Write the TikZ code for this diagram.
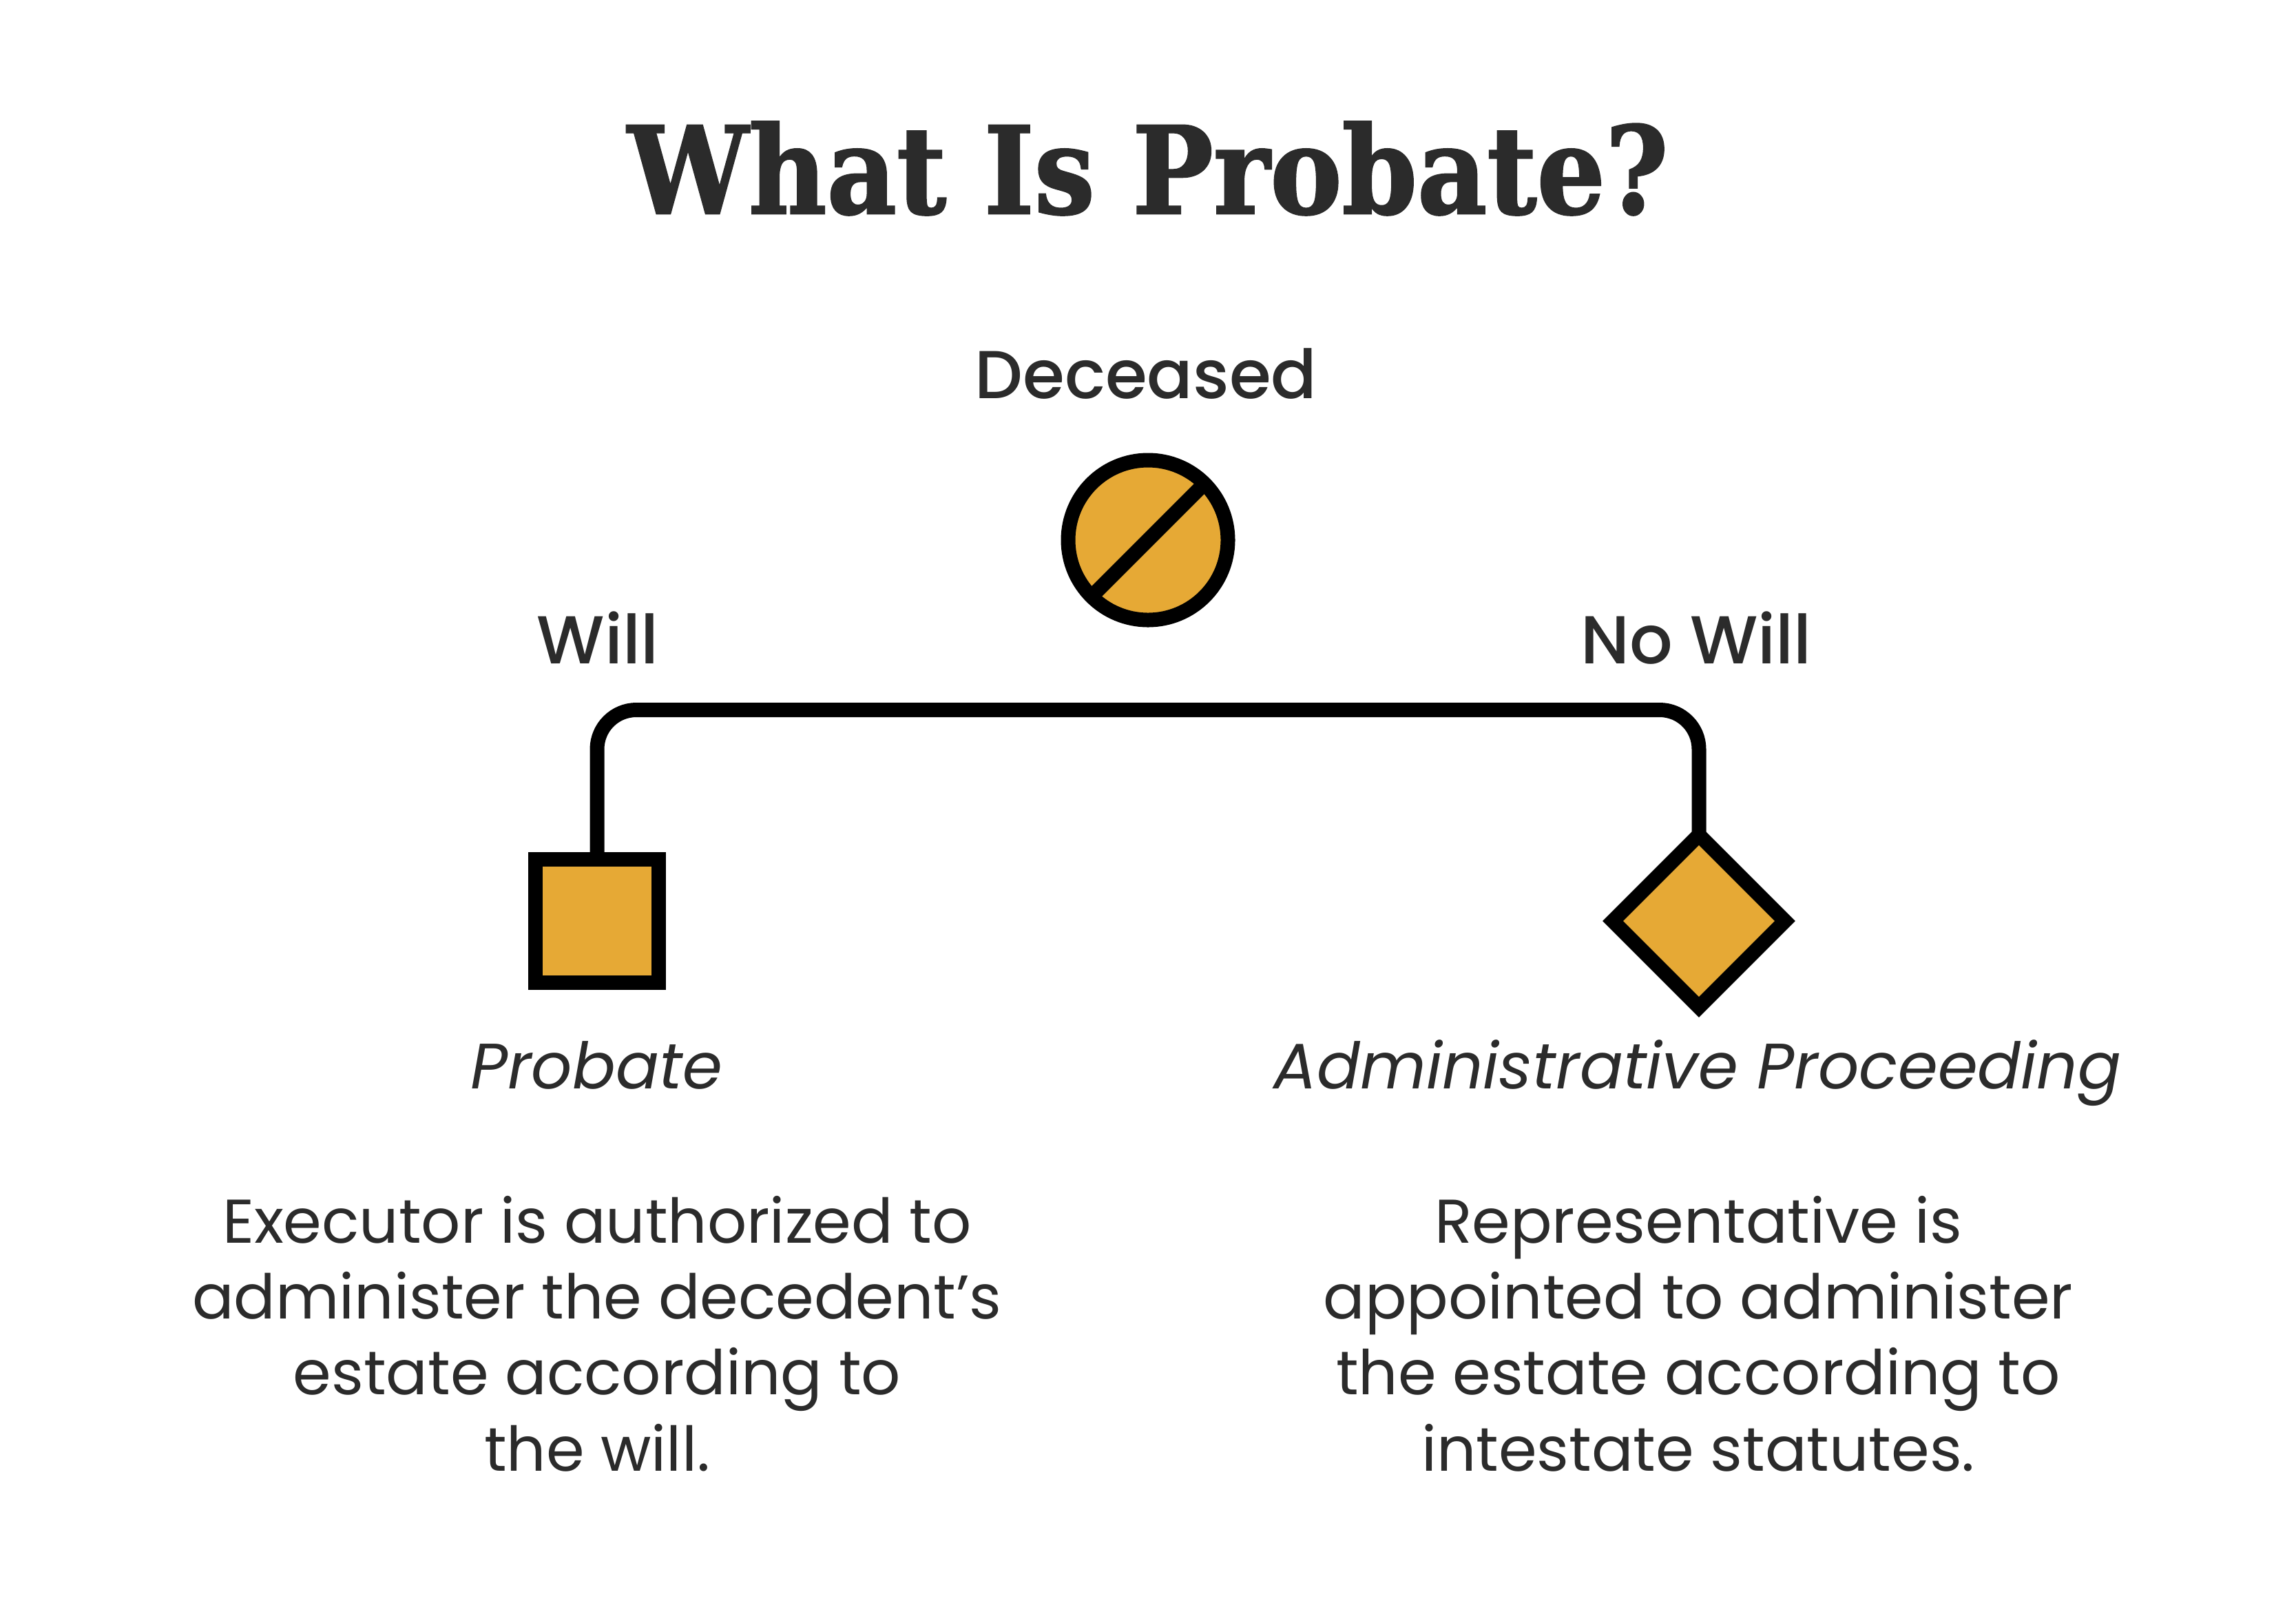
\documentclass[tikz,border=0pt]{standalone}
\usepackage{fontspec}
\usepackage{xcolor}
\usepackage{tikz}
\usetikzlibrary{
	shapes.geometric,
	positioning,
	calc
}
\setmainfont{Poppins}[BoldFont={* Medium}]
\newfontface\titlefont{DejaVu Serif Bold}[FakeBold=1.5]
\definecolor{gold}{HTML}{E6A935}
\definecolor{ink}{HTML}{2B2B2B}

\begin{document}
\begin{tikzpicture}[
				symbox/.style={
					draw=black, fill=gold, line width=0.21cm,
					inner sep=0pt, outer sep=0pt
				},
				label/.style={
					text=ink, inner sep=0pt, anchor=base,
					font=\bfseries\fontsize{28}{34}\selectfont
				},
				kind/.style={
					label, font=\itshape\fontsize{26.5}{32}\selectfont
				},
				para/.style={
					text=ink, inner sep=0pt, anchor=base, align=center,
					font=\fontsize{25.5}{31.35}\selectfont
				},
				link/.style={draw=black, line width=0.21cm, rounded corners=0.57cm},
				]
				
				\fill[white] (0,0) rectangle (33.34,-23.26);
				\useasboundingbox (0,0) rectangle (33.34,-23.26);
				
				\node[text=ink, inner sep=0pt, anchor=base] (title) at (16.67,-3.10)
					{\scalebox{0.89}[1]{\titlefont\fontsize{50}{60}\selectfont What Is Probate?}};
				
				%deceased
				\node[label] (deceased) at (16.64,-5.78) {Deceased};
				\node[symbox, circle, minimum size=2.32cm] (deceasedsym) at (16.67,-7.84) {};
				\draw[line width=0.21cm] (deceasedsym.south west) -- (deceasedsym.north east);
				
				%will
				\node[label] (will) at (8.68,-9.63) {Will};
				\node[symbox, rectangle, minimum size=1.79cm] (probatesym) at (8.67,-13.37) {};
				\node[kind] (probate) at (8.66,-15.80) {Probate};
				\node[para] (willtext) at (8.67,-21.35)
					{Executor is authorized to\\administer the decedent’s\\estate according to\\the will.};
				
				%no will
				\node[label] (nowill) at (24.63,-9.63) {No Will};
				\node[symbox, diamond, aspect=1, minimum size=2.5cm] (adminsym) at (24.67,-13.37) {};
				\node[kind] (admin) at (24.65,-15.80) {Administrative Proceeding};
				\node[para] (nowilltext) at (24.66,-21.35)
					{Representative is\\appointed to administer\\the estate according to\\intestate statutes.};
				
				\coordinate (bar) at (16.67,-10.305);
				\draw[link] (probatesym.north) |- (bar) -| (adminsym.north);
			\end{tikzpicture}
\end{document}
